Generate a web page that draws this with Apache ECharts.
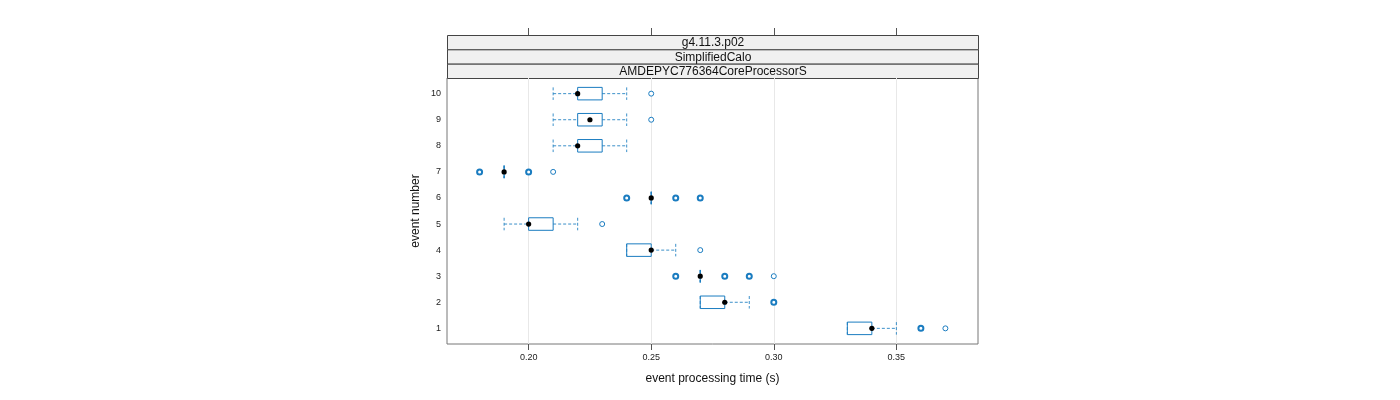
<!DOCTYPE html>
<html>
<head>
<meta charset="utf-8">
<script src="https://cdn.jsdelivr.net/npm/echarts@6/dist/echarts.min.js"></script>
<style>html,body{margin:0;padding:0;background:#fff}#c{width:1400px;height:400px}</style>
</head>
<body>
<div id="c"></div>
<script>
// ---- data ----
const events       = [1, 2, 3, 4, 5, 6, 7, 8, 9, 10];
const whiskerLow   = [0.33, 0.27, 0.27, 0.24, 0.19, 0.25, 0.19, 0.21, 0.21, 0.21];
const q1           = [0.33, 0.27, 0.27, 0.24, 0.20, 0.25, 0.19, 0.22, 0.22, 0.22];
const medians      = [0.34, 0.28, 0.27, 0.25, 0.20, 0.25, 0.19, 0.22, 0.225, 0.22];
const q3           = [0.34, 0.28, 0.27, 0.25, 0.21, 0.25, 0.19, 0.23, 0.23, 0.23];
const whiskerHigh  = [0.35, 0.29, 0.27, 0.26, 0.22, 0.25, 0.19, 0.24, 0.24, 0.24];
const outlierEvent = [1, 1, 2, 3, 3, 3, 3, 4, 5, 6, 6, 6, 7, 7, 7, 9, 10];
const outlierValue = [0.36, 0.37, 0.30, 0.26, 0.28, 0.29, 0.30, 0.27, 0.23, 0.24, 0.26, 0.27, 0.18, 0.20, 0.21, 0.25, 0.25];
const outlierCount = [3, 1, 2, 2, 2, 2, 1, 1, 1, 2, 2, 2, 2, 2, 1, 1, 1];
const xTicks = [0.20, 0.25, 0.30, 0.35];
const xTickLabels = ['0.20', '0.25', '0.30', '0.35'];
const yTicks = [1, 2, 3, 4, 5, 6, 7, 8, 9, 10];
const stripLabels = ['g4.11.3.p02', 'SimplifiedCalo', 'AMDEPYC776364CoreProcessorS'];
const xLabel = 'event processing time (s)';
const yLabel = 'event number';

// ---- chart ----
const BLUE = '#1a7cc0';
const FONT = 'Liberation Sans, Arial, sans-serif';
const xMin = 0.18 - 0.07 * 0.19, xMax = 0.37 + 0.07 * 0.19;
const G = {left: 447, right: 422, top: 78, bottom: 56};

const boxData = events.map((e, i) => [e, whiskerLow[i], q1[i], medians[i], q3[i], whiskerHigh[i]]);
const outData = outlierEvent.map((e, i) => ({
  value: [outlierValue[i], e],
  itemStyle: {borderWidth: outlierCount[i] > 1 ? 2 : 1}
}));

const chart = echarts.init(document.getElementById('c'), null, {renderer: 'canvas'});

const stripH = (G.top - 35) / 3;
const graphics = stripLabels.map((t, i) => ({
  type: 'group',
  left: G.left, top: 35 + i * stripH,
  children: [
    {type: 'rect', shape: {x: 0, y: 0, width: 1400 - G.left - G.right, height: stripH},
     style: {fill: '#f0f0f0', stroke: '#444', lineWidth: 1}},
    {type: 'text', x: (1400 - G.left - G.right) / 2, y: stripH / 2 + 0.5,
     style: {text: t, fill: '#111', font: '12px ' + FONT, align: 'center', verticalAlign: 'middle'}}
  ]
}));

chart.setOption({
  animation: false,
  grid: {left: G.left, right: G.right, top: G.top, bottom: G.bottom, show: true,
         borderColor: '#777', borderWidth: 1, backgroundColor: 'transparent'},
  graphic: graphics,
  xAxis: [{
    type: 'value', min: xMin, max: xMax, position: 'bottom',
    name: xLabel, nameLocation: 'middle', nameGap: 29,
    nameTextStyle: {fontSize: 12, color: '#111', fontFamily: FONT},
    axisLine: {show: false},
    axisTick: {show: true, length: 6, customValues: xTicks, lineStyle: {color: '#555'}},
    axisLabel: {show: true, customValues: xTicks, fontSize: 9, color: '#222', fontFamily: FONT, margin: 9,
                formatter: v => xTickLabels[xTicks.findIndex(t => Math.abs(t - v) < 1e-9)] || ''},
    splitLine: {show: true, lineStyle: {color: '#e8e8e8', width: 1}}
  }, {
    type: 'value', min: xMin, max: xMax, position: 'top', offset: G.top - 35,
    axisLine: {show: false},
    axisTick: {show: true, length: 7, customValues: xTicks, lineStyle: {color: '#555'}},
    axisLabel: {show: false},
    splitLine: {show: false}
  }],
  yAxis: {
    type: 'value', min: 0.4, max: 10.6,
    name: yLabel, nameLocation: 'middle', nameGap: 25, nameRotate: 90,
    nameTextStyle: {fontSize: 12, color: '#111', fontFamily: FONT},
    axisLine: {show: false},
    axisTick: {show: false},
    axisLabel: {show: true, customValues: yTicks, fontSize: 9, color: '#222', fontFamily: FONT, margin: 6},
    splitLine: {show: false}
  },
  series: [{
    type: 'custom',
    xAxisIndex: 0,
    data: boxData,
    encode: {x: [1, 2, 3, 4, 5], y: 0},
    renderItem: function (params, api) {
      const y = api.value(0);
      const pLo = api.coord([api.value(1), y]);
      const pQ1 = api.coord([api.value(2), y]);
      const pMed = api.coord([api.value(3), y]);
      const pQ3 = api.coord([api.value(4), y]);
      const pHi = api.coord([api.value(5), y]);
      const h = api.size([0, 1])[1] * 0.48;
      const cy = pMed[1];
      const dash = {stroke: BLUE, lineWidth: 1, lineDash: [3, 2], fill: null, opacity: 0.85};
      const ch = [];
      if (pQ1[0] - pLo[0] > 0.5) {
        ch.push({type: 'line', shape: {x1: pLo[0], y1: cy, x2: pQ1[0], y2: cy}, style: dash});
      }
      if (pHi[0] - pQ3[0] > 0.5) {
        ch.push({type: 'line', shape: {x1: pQ3[0], y1: cy, x2: pHi[0], y2: cy}, style: dash});
      }
      ch.push({type: 'line', shape: {x1: pLo[0], y1: cy - h / 2, x2: pLo[0], y2: cy + h / 2}, style: dash});
      ch.push({type: 'line', shape: {x1: pHi[0], y1: cy - h / 2, x2: pHi[0], y2: cy + h / 2}, style: dash});
      if (pQ3[0] - pQ1[0] > 0.5) {
        ch.push({type: 'rect', shape: {x: pQ1[0], y: cy - h / 2, width: pQ3[0] - pQ1[0], height: h},
                 style: {stroke: BLUE, fill: null, lineWidth: 1}});
      } else {
        ch.push({type: 'line', shape: {x1: pQ1[0], y1: cy - h / 2, x2: pQ1[0], y2: cy + h / 2},
                 style: {stroke: BLUE, lineWidth: 1.2}});
      }
      ch.push({type: 'circle', shape: {cx: pMed[0], cy: cy, r: 2.6}, style: {fill: '#000', stroke: null}});
      return {type: 'group', children: ch};
    },
    z: 3
  }, {
    type: 'scatter',
    xAxisIndex: 0,
    data: outData,
    symbol: 'circle',
    symbolSize: 5,
    itemStyle: {color: '#fff', borderColor: BLUE, borderWidth: 1, opacity: 1},
    z: 2
  }]
});
</script>
</body>
</html>
